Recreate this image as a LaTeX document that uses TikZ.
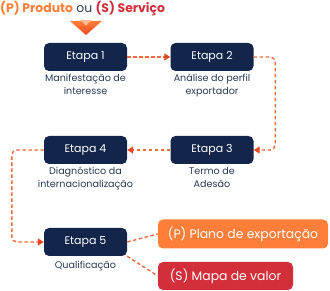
\documentclass[tikz,border=0pt]{standalone}
\usepackage{fontspec}
\setmainfont{Poppins}
\usetikzlibrary{arrows.meta,calc,positioning}

\definecolor{navy}{HTML}{13254A}
\definecolor{descgray}{HTML}{2B3A55}
\definecolor{orangeP}{HTML}{FF7F3A}
\definecolor{redS}{HTML}{D32F3A}
\definecolor{dashc}{HTML}{F26A3F}
\definecolor{tipc}{HTML}{E8471F}

\begin{document}
\begin{tikzpicture}[x=1pt, y=-1pt,
    etapa/.style={fill=navy, rounded corners=5pt, minimum width=83pt, minimum height=28pt,
      inner sep=0pt, text=white, font=\fontsize{11}{12}\selectfont},
    desc/.style={below=3pt, align=center, text=descgray, inner sep=0pt,
      font=\fontsize{9.6}{12.5}\selectfont},
    saida/.style={rounded corners=5pt, minimum height=29pt, inner sep=0pt, text=white,
      font=\fontsize{12.4}{14}\selectfont},
    flow/.style={dashc, line width=1.4pt, dash pattern=on 3.5pt off 2.5pt,
      -{Triangle[length=6pt, width=7pt, fill=tipc, color=tipc]}},
    link/.style={dashc, line width=1.4pt, dash pattern=on 3.5pt off 2.5pt}]
    \useasboundingbox (0,0) rectangle (330,291);

    % titulo e seta
    \node[anchor=west, inner sep=0pt, text=descgray, font=\fontsize{12.4}{14}\selectfont] (titulo) at (0,9)
        {\textcolor{orangeP}{\bfseries (P) Produto} ou \textcolor{redS}{\bfseries (S) Serviço}};
    \shade[top color=orangeP, bottom color=tipc] (70,21) -- (102,21) -- (86,35) -- cycle;
    \fill[orangeP!55!white] (80,20) -- (92,20) -- (86,25.5) -- cycle;

    % etapas
    \node[etapa] (e1) at (85.5,57) {Etapa 1};
    \node[etapa] (e2) at (212,57) {Etapa 2};
    \node[etapa] (e3) at (212,150) {Etapa 3};
    \node[etapa] (e4) at (85.5,150) {Etapa 4};
    \node[etapa] (e5) at (85.5,242) {Etapa 5};

    \node[desc] (d1) at (e1.south) {Manifestação de\\interesse};
    \node[desc] (d2) at (e2.south) {Análise do perfil\\exportador};
    \node[desc] (d3) at (e3.south) {Termo de\\Adesão};
    \node[desc] (d4) at (e4.south) {Diagnóstico da\\internacionalização};
    \node[desc, below=5pt] (d5) at (e5.south) {Qualificação};

    % saidas
    \node[saida, fill=orangeP, minimum width=170pt] (plano) at (243,234) {(P) Plano de exportação};
    \node[saida, fill=redS, minimum width=135pt, minimum height=28pt] (mapa) at (225.5,276) {(S) Mapa de valor};

    % conexoes
    \draw[flow] (e1) -- (e2);
    \draw[flow, rounded corners=5pt] (e2.east) -- ++(21.5,0) |- (e3.east);
    \draw[flow] (e3.west) -- (e4.east);
    \draw[flow, rounded corners=5pt] (e4.west) -- ++(-32,0) |- (e5.west);
    \draw[link] (e5.east) -- (plano.west);
    \draw[link] (e5.south east) -- (mapa.west);
\end{tikzpicture}
\end{document}
